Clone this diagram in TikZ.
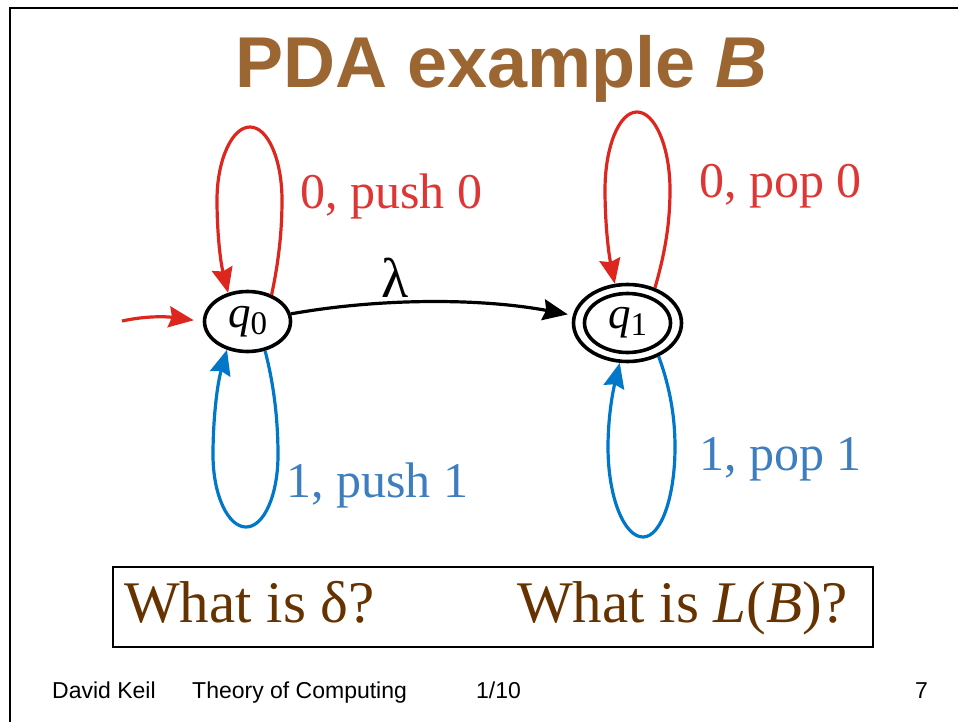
\documentclass[tikz,border=0pt]{standalone}
\usepackage{fontspec}
\setmainfont{Liberation Serif}
\newfontfamily\headfont{Liberation Sans}
\usetikzlibrary{arrows.meta,shapes.geometric}

\definecolor{loopred}{RGB}{221,38,30}
\definecolor{labred}{RGB}{222,54,52}
\definecolor{loopblue}{RGB}{0,119,200}
\definecolor{labblue}{RGB}{62,126,190}
\definecolor{titlebrown}{RGB}{156,102,51}
\definecolor{qbrown}{RGB}{102,51,0}

\begin{document}
\begin{tikzpicture}[x=1pt,y=-1pt,
  state/.style={ellipse,draw,line width=3.6pt,inner sep=0pt,
    font=\fontsize{45}{45}\selectfont},
  arr/.style={line width=3.2pt,-{Stealth[length=25pt,width=21pt,inset=3pt]}},
  lab/.style={anchor=base west,inner sep=0pt,font=\fontsize{50}{50}\selectfont},
  ask/.style={anchor=base west,inner sep=0pt,text=qbrown,font=\fontsize{59}{59}\selectfont},
  foot/.style={anchor=base west,inner sep=0pt,font=\headfont\fontsize{23}{23}\selectfont}
]
\useasboundingbox (0,0) rectangle (958,722);

% slide frame
\draw[line width=2.4pt,line join=miter] (10,722) -- (10,8.3) -- (958,8.3);

% title
\node[anchor=base,inner sep=0pt,text=titlebrown,
  font=\headfont\bfseries\fontsize{72}{72}\selectfont] (title) at (501.5,88)
  {PDA example \textit{B}};

% states
\node[state,minimum width=86pt,minimum height=60pt] (q0) at (247.5,321.5)
  {\itshape q\upshape\raisebox{-7pt}{\fontsize{33}{33}\selectfont 0}};
\node[state,minimum width=108pt,minimum height=77pt] (q1) at (627.5,323) {};
\node[state,minimum width=86pt,minimum height=59pt] (q1in) at (627.5,323)
  {\itshape q\upshape\raisebox{-7pt}{\fontsize{33}{33}\selectfont 1}};

% start arrow
\coordinate (init) at (122,321);
\draw[arr,loopred,shorten >=9pt] (init) .. controls (150,315) and (170,317) .. (q0.west);

% lambda move
\draw[arr,black,shorten >=5pt] (q0.10) .. controls (380,298) and (480,298) .. (q1.172);
\node[anchor=base,inner sep=0pt,font=\fontsize{56}{56}\selectfont] (lam) at (395,297) {λ};

% self-loops on q0
\draw[arr,loopred] (q0.48) .. controls (279,260) and (282,230) .. (282,200)
  .. controls (282,160) and (268,127) .. (250,127)
  .. controls (232,127) and (217,160) .. (217,200)
  .. controls (217,230) and (220,260) .. (q0.124);
\draw[arr,loopblue] (q0.-59) .. controls (274,385) and (278,420) .. (278,455)
  .. controls (278,495) and (264,527) .. (246,527)
  .. controls (228,527) and (213,495) .. (213,455)
  .. controls (213,420) and (217,385) .. (q0.-126);

% self-loops on q1
\draw[arr,loopred] (q1.52) .. controls (666,250) and (670,220) .. (670,190)
  .. controls (670,147) and (655,112) .. (637,112)
  .. controls (619,112) and (605,147) .. (605,190)
  .. controls (605,220) and (608,250) .. (q1.108);
\draw[arr,loopblue] (q1.-47) .. controls (671,390) and (675,420) .. (675,447)
  .. controls (675,497) and (661,537) .. (643,537)
  .. controls (624,537) and (608,497) .. (608,447)
  .. controls (608,420) and (612,395) .. (q1.-101);

% transition labels
\node[lab,text=labred] (push0) at (300,208) {0, push 0};
\node[lab,text=labred] (pop0) at (699,197) {0, pop 0};
\node[lab,text=labblue] (push1) at (286,497) {1, push 1};
\node[lab,text=labblue] (pop1) at (699,470) {1, pop 1};

% questions
\node[draw,line width=1.5pt,minimum width=760pt,minimum height=80pt,inner sep=0pt]
  (qbox) at (493,607) {};
\node[ask] (qdelta) at (124,622) {What is δ?};
\node[ask] (qlang) at (517,622) {What is \textit{L}(\textit{B})?};

% footer
\node[foot] (author) at (52,698) {David Keil};
\node[foot] (course) at (192,698) {Theory of Computing};
\node[foot] (date) at (476,698) {1/10};
\node[foot] (page) at (915,698) {7};
\end{tikzpicture}
\end{document}
